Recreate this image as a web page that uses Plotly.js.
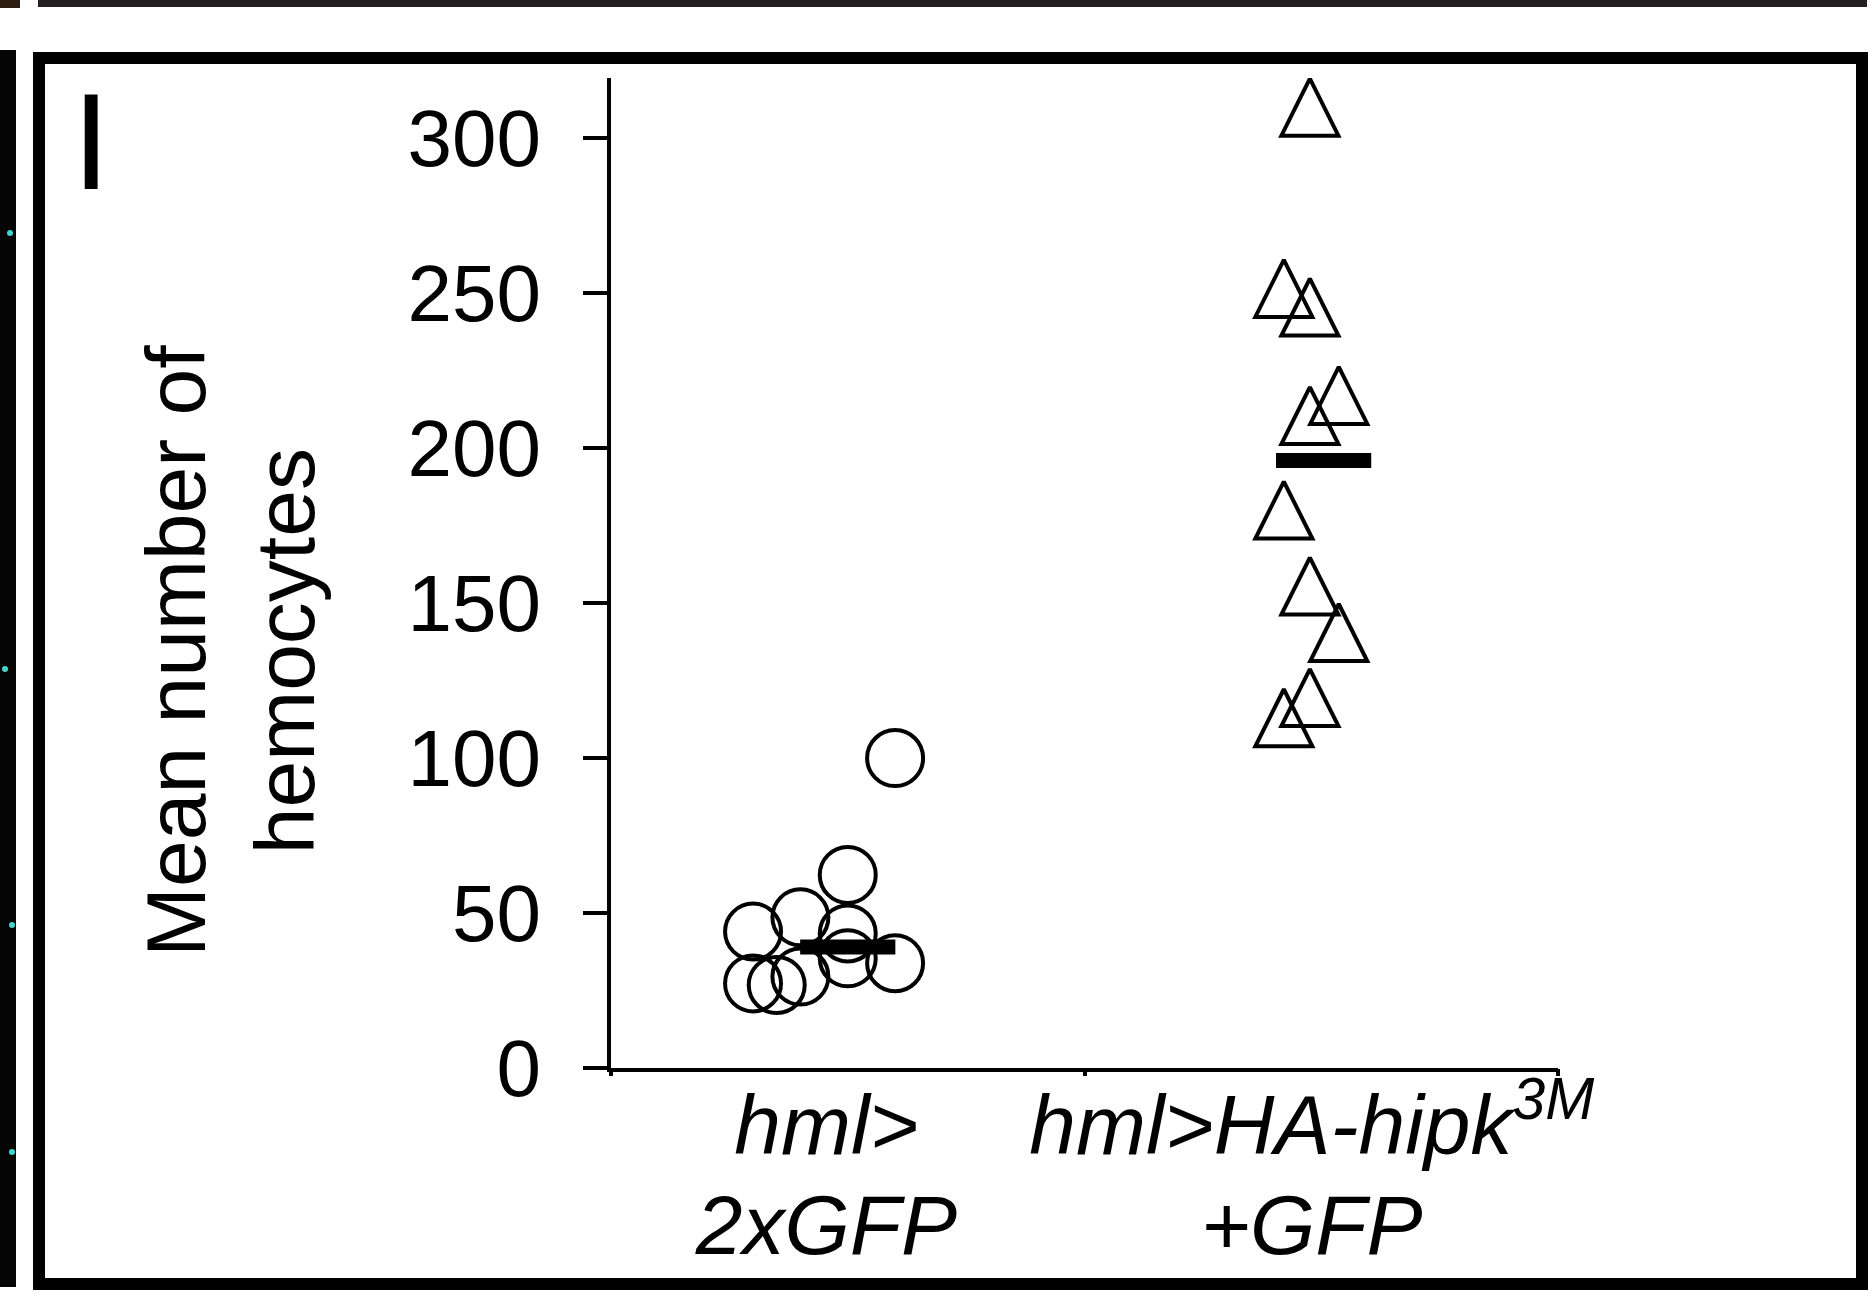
<!DOCTYPE html>
<html>
<head>
<meta charset="utf-8">
<script src="https://cdn.plot.ly/plotly-3.0.1.min.js"></script>
<style>
html,body{margin:0;padding:0;background:#ffffff;}
#chart{width:1872px;height:1299px;}
</style>
</head>
<body>
<div id="chart"></div>
<script>
// ---------- data ----------
const categoryLine1 = ['<i>hml></i>', '<i>hml>HA-hipk<sup>3M</sup></i>'];
const categoryLine2 = ['<i>2xGFP</i>', '<i>+GFP</i>'];
const categoryPos = [0.455, 1.48];
const groupBoundaries = [0, 1, 2];

const controlX = [0.60, 0.50, 0.40, 0.30, 0.50, 0.50, 0.60, 0.30, 0.35, 0.40];
const controlValues = [100, 62.3, 48.6, 44, 43.4, 35.4, 33.8, 27.3, 26.8, 29.5];

const hipkX = [1.476, 1.421, 1.476, 1.537, 1.476, 1.421, 1.476, 1.537, 1.476, 1.421];
const hipkValues = [310, 251.5, 245.5, 217, 210.5, 180, 155.5, 140.5, 119.5, 113];

const meanX = [0.5, 1.505];
const meanValues = [39, 196];

const yTicks = [0, 50, 100, 150, 200, 250, 300];
const yMax = 319.4;

// ---------- layout geometry ----------
const W = 1872, H = 1299;
const L = 611, R = 1558, T = 78, B = 1068;
const FONT = 'Liberation Sans, Arial, Helvetica, sans-serif';
const px2x = p => (p - L) / (R - L);
const px2y = p => (B - p) / (B - T);

const TRI_SIZE = 57;
const pxPerUnit = (B - T) / yMax;
const triShift = (TRI_SIZE / 2) / pxPerUnit; // centre the apex-anchored triangle on its value

const traces = [
  {
    type: 'scatter', mode: 'markers', x: controlX, y: controlValues,
    xaxis: 'x', yaxis: 'y',
    marker: {symbol: 'circle-open', size: 56, color: '#000', line: {width: 4}},
    hoverinfo: 'skip', showlegend: false
  },
  {
    type: 'scatter', mode: 'markers', x: hipkX, y: hipkValues,
    xaxis: 'x3', yaxis: 'y2',
    marker: {symbol: 'arrow-up-open', size: TRI_SIZE, color: '#000', line: {width: 4}},
    hoverinfo: 'skip', showlegend: false
  },
  {
    type: 'scatter', mode: 'markers', x: meanX, y: meanValues,
    xaxis: 'x2', yaxis: 'y',
    marker: {symbol: 'line-ew-open', size: 68, color: '#000', line: {width: 15}},
    hoverinfo: 'skip', showlegend: false
  }
];

const shapes = [
  // panel frame
  {type: 'rect', xref: 'paper', yref: 'paper', x0: px2x(39), x1: px2x(1862), y0: px2y(58), y1: px2y(1284),
   line: {color: '#000', width: 12}, fillcolor: 'rgba(0,0,0,0)', layer: 'above'},
  // neighbouring panel edges
  {type: 'rect', xref: 'paper', yref: 'paper', x0: px2x(38), x1: px2x(1867), y0: px2y(-5), y1: px2y(7),
   line: {width: 0}, fillcolor: '#231f20', layer: 'above'},
  {type: 'rect', xref: 'paper', yref: 'paper', x0: px2x(-5), x1: px2x(16), y0: px2y(50), y1: px2y(1287),
   line: {width: 0}, fillcolor: '#050505', layer: 'above'},
  {type: 'rect', xref: 'paper', yref: 'paper', x0: px2x(-5), x1: px2x(20), y0: px2y(-5), y1: px2y(8),
   line: {width: 0}, fillcolor: '#2b1d12', layer: 'above'}
];
[[10, 233], [5, 669], [12, 925], [12, 1152]].forEach(function(p) {
  shapes.push({type: 'circle', xref: 'paper', yref: 'paper',
    x0: px2x(p[0] - 3), x1: px2x(p[0] + 3), y0: px2y(p[1] - 3), y1: px2y(p[1] + 3),
    line: {width: 0}, fillcolor: '#3fd6d0', layer: 'above'});
});

const layout = {
  width: W, height: H,
  margin: {l: L, r: W - R, t: T, b: H - B, pad: 0},
  paper_bgcolor: '#ffffff', plot_bgcolor: '#ffffff',
  font: {family: FONT, color: '#000'},
  showlegend: false,
  xaxis: {
    range: [0, 2], showline: true, linewidth: 4, linecolor: '#000',
    ticks: '', tickvals: categoryPos, ticktext: categoryLine1,
    tickfont: {family: FONT, size: 84, color: '#000'},
    showgrid: false, zeroline: false, fixedrange: true, ticklabelstandoff: -19
  },
  xaxis2: {
    overlaying: 'x', anchor: 'y', range: [0, 2],
    tickvals: groupBoundaries, ticks: 'outside', ticklen: 7, tickwidth: 4, tickcolor: '#000',
    showticklabels: false, showgrid: false, zeroline: false, showline: false
  },
  xaxis3: {
    overlaying: 'x', anchor: 'y2', range: [0, 2],
    ticks: '', tickvals: categoryPos, ticktext: categoryLine2,
    tickfont: {family: FONT, size: 84, color: '#000'},
    showgrid: false, zeroline: false, showline: false, ticklabelstandoff: 101
  },
  yaxis: {
    range: [0, yMax], showline: true, linewidth: 4, linecolor: '#000',
    ticks: 'outside', ticklen: 24, tickwidth: 4, tickcolor: '#000',
    tickvals: yTicks, ticktext: yTicks.map(String),
    tickfont: {family: FONT, size: 80, color: '#000'},
    showgrid: false, zeroline: false, ticklabelstandoff: 26
  },
  yaxis2: {
    overlaying: 'y', anchor: 'x3', range: [-triShift, yMax - triShift],
    showticklabels: false, ticks: '', showgrid: false, zeroline: false, showline: false
  },
  shapes: shapes,
  annotations: [
    {text: 'Mean number of<br>hemocytes', xref: 'paper', yref: 'paper',
     x: px2x(230), y: px2y(651), xanchor: 'center', yanchor: 'middle',
     textangle: -90, showarrow: false, font: {family: FONT, size: 84, color: '#000'}},
    {text: 'I', xref: 'paper', yref: 'paper', x: px2x(91), y: px2y(141),
     xanchor: 'center', yanchor: 'middle', showarrow: false,
     font: {family: FONT, size: 138, color: '#000'}}
  ]
};

Plotly.newPlot('chart', traces, layout, {displayModeBar: false, staticPlot: true});
</script>
</body>
</html>
